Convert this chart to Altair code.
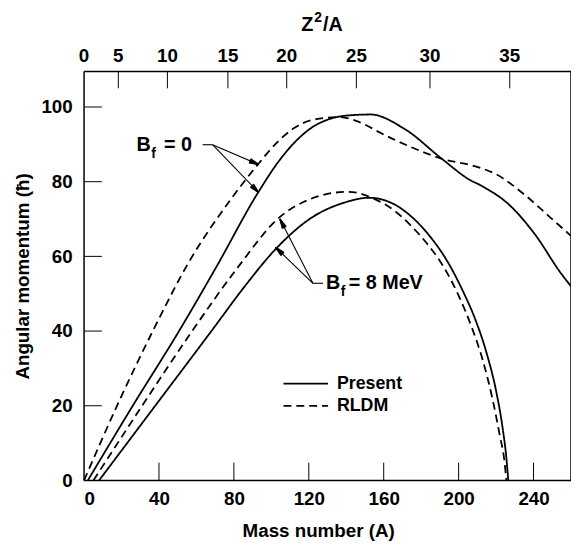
import math
import altair as alt
import pandas as pd

# ---------------- data ----------------
A_present_b0 = [2, 26, 50.7, 71, 92.8, 104, 112, 121.6, 130, 140, 153, 170.6, 191.6, 205.6, 212.6, 226.6, 240.6, 254.6, 260]
L_present_b0 = [0, 20, 40, 57.5, 77, 85.5, 90.3, 94.5, 96.6, 97.7, 98, 94.3, 85.9, 80.6, 78.8, 74, 66, 55.5, 52]

A_rldm_b0 = [0, 17.6, 36.7, 56, 77.8, 92.8, 104, 112, 121.6, 136, 150, 157, 174, 192, 209, 220, 235, 249, 260]
L_rldm_b0 = [0, 20, 40, 58.5, 74.9, 84.6, 91, 94.3, 96.5, 97.3, 95.3, 93.4, 89.4, 86, 84.1, 82, 76.6, 70.4, 65.5]

A_present_b8 = [8, 38, 68, 86.6, 102, 121.6, 139, 152.2, 165.4, 174, 182.8, 195, 202, 209, 215, 220, 223.5, 225.5, 226.5]
L_present_b8 = [0, 20, 40, 52.5, 61.8, 70.4, 74.4, 75.7, 74, 71, 66.5, 57.8, 51, 43, 34, 24, 14, 6, 0]

A_rldm_b8 = [5, 31, 57.7, 82, 104, 121.6, 140.8, 156.6, 165, 174, 183, 191.6, 200, 207, 213, 218, 222, 224.5, 225.5]
L_rldm_b8 = [0, 20, 40, 57, 70.3, 75.5, 77.3, 75, 72.5, 68.5, 63.5, 57.5, 49.5, 41, 32, 22, 12, 5, 0]

x_ticks = [0, 40, 80, 120, 160, 200, 240]
y_ticks = [0, 20, 40, 60, 80, 100]
z2a_labels = ['0', '5', '10', '15', '20', '25', '30', '35']
z2a_at_A = [0, 18.3, 44.5, 76.8, 108.2, 145.4, 184.7, 227.3]

# ---------------- build tables ----------------
rows = []
for name, model, xs_, ys_ in [
    ("b0p", "Present", A_present_b0, L_present_b0),
    ("b0r", "RLDM", A_rldm_b0, L_rldm_b0),
    ("b8p", "Present", A_present_b8, L_present_b8),
    ("b8r", "RLDM", A_rldm_b8, L_rldm_b8),
]:
    for a, l in zip(xs_, ys_):
        rows.append({"curve": name, "model": model, "A": a, "L": l})
df = pd.DataFrame(rows)

W, H = 493, 414
XMAX, YMAX = 260, 109.5
SX, SY = W / XMAX, H / YMAX
xs = alt.Scale(domain=[0, XMAX], nice=False, zero=False)
ys = alt.Scale(domain=[0, YMAX], nice=False, zero=False)
FONT = "Liberation Sans"
DASH = alt.Scale(domain=["Present", "RLDM"], range=[[1, 0], [8, 5]])
TXT = dict(font=FONT, fontWeight="bold", color="black")

X = lambda f="A": alt.X(f + ":Q", scale=xs)
Y = lambda f="L": alt.Y(f + ":Q", scale=ys)

curves = alt.Chart(df).mark_line(color="black", strokeWidth=1.8, interpolate="monotone").encode(
    x=alt.X("A:Q", scale=xs, axis=alt.Axis(
        orient="bottom", values=x_ticks, ticks=False, domain=False, grid=False,
        labelPadding=9, title="Mass number (A)", titlePadding=14, titleX=237)),
    y=alt.Y("L:Q", scale=ys, axis=alt.Axis(
        orient="left", values=y_ticks, ticks=False, domain=False, grid=False,
        labelPadding=12, title="Angular momentum (ħ)", titlePadding=9)),
    detail="curve:N",
    strokeDash=alt.StrokeDash("model:N", scale=DASH, legend=None),
)

# frame drawn as four rules (data-space corners)
frame_df = pd.DataFrame({"A": [0, 0, 0, XMAX], "A2": [XMAX, XMAX, 0, XMAX],
                         "L": [0, YMAX, 0, 0], "L2": [0, YMAX, YMAX, YMAX]})
frame = alt.Chart(frame_df).mark_rule(color="black", strokeWidth=1.5).encode(
    x=X(), x2="A2:Q", y=Y(), y2="L2:Q")

# top Z^2/A scale: labels and inward ticks
top_df = pd.DataFrame({"A": z2a_at_A, "lab": z2a_labels})
top_df["L"] = YMAX
top_df["L2"] = YMAX - 17 / SY
top_ticks = alt.Chart(top_df[top_df.A > 0]).mark_rule(color="black", strokeWidth=1).encode(
    x=X(), y=Y(), y2="L2:Q")
top_labels = alt.Chart(top_df).mark_text(align="center", baseline="middle", fontSize=19, **TXT).encode(
    x=X(), y=alt.value(-16), text="lab:N")

one = pd.DataFrame({"k": [0]})
ttl_z = alt.Chart(one).mark_text(text="Z", align="left", baseline="alphabetic", fontSize=20, **TXT).encode(
    x=alt.value(220), y=alt.value(-41))
ttl_2 = alt.Chart(one).mark_text(text="2", align="left", baseline="alphabetic", fontSize=14, **TXT).encode(
    x=alt.value(233), y=alt.value(-50))
ttl_a = alt.Chart(one).mark_text(text="/A", align="left", baseline="alphabetic", fontSize=20, **TXT).encode(
    x=alt.value(242), y=alt.value(-41))

# inward ticks (data-space)
bt_df = pd.DataFrame({"A": [v for v in x_ticks if v > 0]})
bt_df["L"] = 0
bt_df["L2"] = 18 / SY
bottom_ticks = alt.Chart(bt_df).mark_rule(color="black", strokeWidth=1).encode(
    x=X(), y=Y(), y2="L2:Q")
lt_df = pd.DataFrame({"L": [v for v in y_ticks if v > 0]})
lt_df["A"] = 0
lt_df["A2"] = 18 / SX
left_ticks = alt.Chart(lt_df).mark_rule(color="black", strokeWidth=1).encode(
    y=Y(), x=X(), x2="A2:Q")

# legend
leg_df = pd.DataFrame({"model": ["Present", "RLDM"], "A": [106.5, 106.5], "A2": [130.3, 130.3],
                       "L": [25.9, 20.0], "At": [135, 135]})
leg_lines = alt.Chart(leg_df).mark_rule(color="black", strokeWidth=1.8).encode(
    x=X(), x2="A2:Q", y=Y(),
    strokeDash=alt.StrokeDash("model:N", scale=DASH, legend=None),
)
leg_text = alt.Chart(leg_df).mark_text(align="left", baseline="middle", fontSize=18, **TXT).encode(
    x=X("At"), y=Y(), text="model:N")

# annotations
txt_df = pd.DataFrame({
    "A": [27.95, 42.7, 129.2, 141.3],
    "L": [89.9, 89.9, 52.8, 52.8],
    "t": ["B", "= 0", "B", "= 8 MeV"],
})
sub_df = pd.DataFrame({"A": [35.9, 137.1], "L": [87.4, 50.4], "t": ["f", "f"]})
ann_text = alt.Chart(txt_df).mark_text(align="left", baseline="middle", fontSize=20, **TXT).encode(
    x=X(), y=Y(), text="t:N")
ann_sub = alt.Chart(sub_df).mark_text(align="left", baseline="middle", fontSize=14, **TXT).encode(
    x=X(), y=Y(), text="t:N")

seg_df = pd.DataFrame({
    "A": [63.3, 68.6, 68.6, 122.2, 122.2, 122.2],
    "L": [89.9, 89.9, 89.9, 52.8, 52.8, 52.8],
    "A2": [68.6, 93.2, 93.2, 127.6, 104.6, 102.3],
    "L2": [89.9, 84.6, 77.1, 52.8, 70.0, 62.4],
    "head": [0, 1, 1, 0, 1, 1],
})
segs = alt.Chart(seg_df).mark_rule(color="black", strokeWidth=1.1).encode(
    x=X(), x2="A2:Q", y=Y(), y2="L2:Q")

# arrowheads: fan of short strokes back from each tip
barbs = []
for _, r in seg_df[seg_df["head"] == 1].iterrows():
    dx = (r.A2 - r.A) * SX
    dy = (r.L2 - r.L) * SY
    n = math.hypot(dx, dy)
    ux, uy = dx / n, dy / n
    for deg in [-13, -9, -5, 0, 5, 9, 13]:
        t = math.radians(deg)
        bx = ux * math.cos(t) - uy * math.sin(t)
        by = ux * math.sin(t) + uy * math.cos(t)
        barbs.append({"A": r.A2, "L": r.L2, "A2": r.A2 - 10 * bx / SX, "L2": r.L2 - 10 * by / SY})
barb_df = pd.DataFrame(barbs)
arrowheads = alt.Chart(barb_df).mark_rule(color="black", strokeWidth=1.3).encode(
    x=X(), x2="A2:Q", y=Y(), y2="L2:Q")

chart = alt.layer(
    curves, frame, top_ticks, top_labels, ttl_z, ttl_2, ttl_a, bottom_ticks, left_ticks,
    leg_lines, leg_text, ann_text, ann_sub, segs, arrowheads
).properties(
    width=W, height=H,
    padding={"left": 77, "top": 61, "right": 0, "bottom": 60},
    autosize=alt.AutoSizeParams(type="none"),
).configure_view(stroke=None).configure_axis(
    labelFont=FONT, labelFontWeight="bold", labelFontSize=19, labelColor="black",
    titleFont=FONT, titleFontWeight="bold", titleFontSize=19, titleColor="black",
)

chart.save("out.html", embed_options={"renderer": "svg", "actions": False})
